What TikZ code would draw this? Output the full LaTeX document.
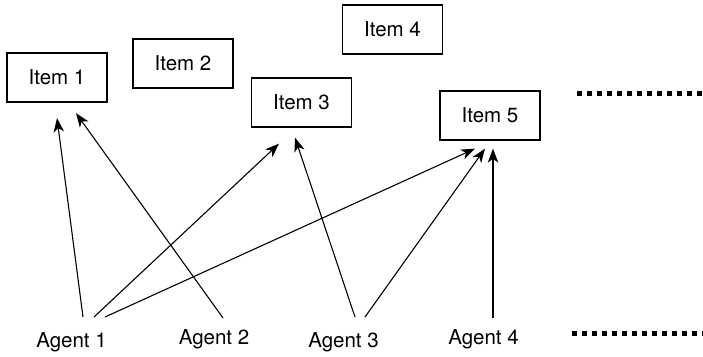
\documentclass[tikz,border=0pt]{standalone}
\usepackage{fontspec}
\setmainfont{TeX Gyre Heros}
\usetikzlibrary{arrows.meta,calc}
\begin{document}
\begin{tikzpicture}[x=1pt,y=-1pt,
  item/.style={draw,line width=1.3pt,minimum width=100pt,minimum height=49pt,inner sep=0pt,font=\fontsize{20.5}{24}\selectfont},
  agent/.style={inner sep=0pt,anchor=base,font=\fontsize{20.5}{24}\selectfont},
  arr/.style={line width=1.1pt,-{Stealth[length=14pt,width=10.5pt,inset=4pt]}},
  dots/.style={line width=5pt,dash pattern=on 5pt off 5pt}]
\useasboundingbox (0,0) rectangle (703,356);
\node[item] (i1) at (57,77.5) {Item 1};
\node[item] (i2) at (183,63.5) {Item 2};
\node[item] (i3) at (301.5,102.5) {Item 3};
\node[item] (i4) at (392.5,29.5) {Item 4};
\node[item] (i5) at (490,115.5) {Item 5};
\node[agent] (a1) at (71.5,347) {Agent 1};
\node[agent] (a2) at (214,344) {Agent 2};
\node[agent] (a3) at (343.5,347) {Agent 3};
\node[agent] (a4) at (483.5,344) {Agent 4};
\draw[arr] ($(a1.base)+(11.5,-30)$) -- ($(i1.south)+(0,15.5)$);
\draw[arr] ($(a2.base)+(9,-26)$) -- ($(i1.south)+(19,10.5)$);
\draw[arr] ($(a1.base)+(22.5,-30)$) -- ($(i3.south)+(-22.5,16)$);
\draw[arr] ($(a3.base)+(11.5,-30)$) -- ($(i3.south)+(-6.5,10)$);
\draw[arr] ($(a1.base)+(33.5,-30)$) -- ($(i5.south)+(-15,8)$);
\draw[arr] ($(a3.base)+(21.5,-30)$) -- ($(i5.south)+(-5,8)$);
\draw[arr] ($(a4.base)+(9.5,-26)$) -- ($(i5.south)+(3,8)$);
\coordinate (t1) at (577,93);
\coordinate (t2) at (703,93);
\coordinate (b1) at (572,333);
\coordinate (b2) at (703,333);
\draw[dots] (t1) -- (t2);
\draw[dots] (b1) -- (b2);
\end{tikzpicture}
\end{document}
